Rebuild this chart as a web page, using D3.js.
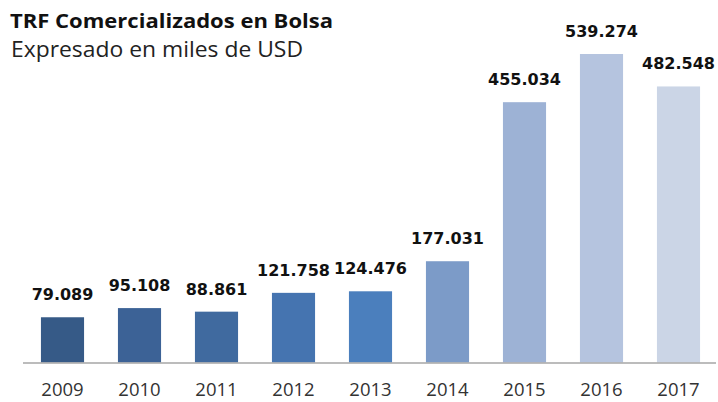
<!DOCTYPE html>
<html>
<head>
<meta charset="utf-8">
<script src="https://cdn.jsdelivr.net/npm/d3@7"></script>
<style>
  body { margin: 0; background: #fff; }
</style>
</head>
<body>
<div id="chart"></div>
<script>
var years = ['2009', '2010', '2011', '2012', '2013', '2014', '2015', '2016', '2017'];
var values = [79089, 95108, 88861, 121758, 124476, 177031, 455034, 539274, 482548];
var labels = ['79.089', '95.108', '88.861', '121.758', '124.476', '177.031', '455.034', '539.274', '482.548'];
var colors = ['#365a87', '#3c6296', '#406a9f', '#4574b0', '#4b7fbd', '#7c9bc8', '#9db2d5', '#b5c4df', '#cbd5e6'];

var width = 718, height = 402;

var svg = d3.select('#chart')
    .append('svg')
    .attr('width', width)
    .attr('height', height);

var x = d3.scaleBand()
    .domain(years)
    .range([24, 717])
    .paddingInner(0.44)
    .paddingOuter(0.22);

var y = d3.scaleLinear()
    .domain([0, 539274])
    .range([362.5, 54]);

// title
svg.append('text')
    .attr('x', 10)
    .attr('y', 28)
    .attr('font-family', 'Open Sans')
    .attr('font-weight', 'bold')
    .attr('font-size', '20px')
    .attr('textLength', 323)
    .attr('lengthAdjust', 'spacingAndGlyphs')
    .attr('fill', '#111')
    .text('TRF Comercializados  en Bolsa');

svg.append('text')
    .attr('x', 11)
    .attr('y', 57)
    .attr('font-family', 'Open Sans')
    .attr('font-size', '21px')
    .attr('textLength', 292)
    .attr('lengthAdjust', 'spacingAndGlyphs')
    .attr('fill', '#222')
    .text('Expresado en miles de USD');

svg.selectAll('rect.bar')
    .data(values)
    .enter()
    .append('rect')
    .attr('class', 'bar')
    .attr('x', function(d, i) { return x(years[i]); })
    .attr('y', function(d) { return y(d); })
    .attr('width', x.bandwidth())
    .attr('height', function(d) { return y(0) - y(d); })
    .attr('fill', function(d, i) { return colors[i]; });

// axis
var axis = svg.append('g')
    .attr('transform', 'translate(0,' + y(0) + ')')
    .call(d3.axisBottom(x).tickSize(0).tickPadding(20));
axis.select('.domain')
    .attr('d', 'M23,0.5H716')
    .attr('stroke', '#a6a6a6')
    .attr('stroke-width', 1.5);
axis.selectAll('text')
    .attr('font-family', 'Open Sans')
    .attr('font-size', '18.5px')
    .attr('fill', '#333');

svg.selectAll('text.val')
    .data(values)
    .enter()
    .append('text')
    .attr('class', 'val')
    .attr('x', function(d, i) { return x(years[i]) + x.bandwidth() / 2; })
    .attr('y', function(d) { return y(d) - 17; })
    .attr('text-anchor', 'middle')
    .attr('font-family', 'DejaVu Sans')
    .attr('font-weight', 'bold')
    .attr('font-size', '16px')
    .attr('fill', '#111')
    .text(function(d, i) { return labels[i]; });
</script>
</body>
</html>
